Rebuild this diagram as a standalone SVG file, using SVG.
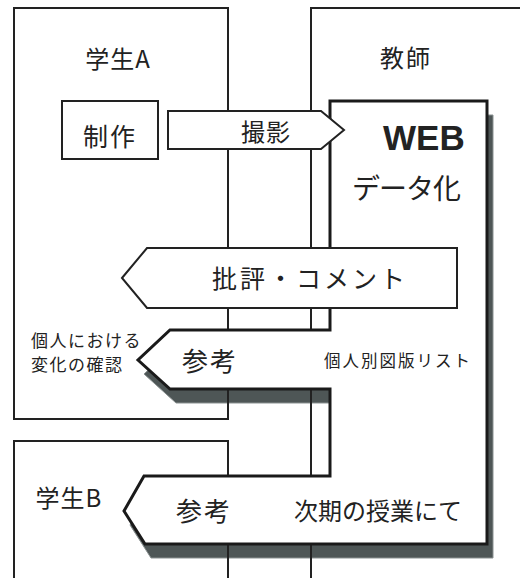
<svg xmlns="http://www.w3.org/2000/svg" width="520" height="578" viewBox="0 0 520 578">
<style>
.box{fill:none;stroke:#222;stroke-width:2}
.shape{fill:#fff;stroke:#222;stroke-width:2}
.web{fill:#fff;stroke:#1a1a1a;stroke-width:3;stroke-linejoin:miter}
.shadow{fill:#4e5656;stroke:#8a9191;stroke-width:1}
text{font-family:"Noto Sans CJK JP","Noto Sans",sans-serif;fill:#222}
.c{text-anchor:middle}
</style>
<rect width="520" height="578" fill="#fff"/>
<g id="web-shadow">
<path class="shadow" transform="translate(6,14)" d="M330,101 H487 V544 H145 L124,511 L144,476 H330 V389 H170 L138,360 L170,330 H330 Z"/>
</g>
<g id="studentA">
<rect class="box" x="14" y="8" width="214" height="411"/>
<text class="c" x="118" y="68" font-size="24" letter-spacing="1">学生A</text>
</g>
<g id="teacher">
<rect class="box" x="311" y="8" width="230" height="600"/>
<text class="c" x="406" y="67" font-size="24" letter-spacing="2">教師</text>
</g>
<g id="studentB">
<rect class="box" x="14" y="441" width="214" height="200"/>
<text class="c" x="69" y="507" font-size="24" letter-spacing="1">学生B</text>
</g>
<g id="seisaku">
<rect class="box" x="62" y="101" width="96" height="58"/>
<text class="c" x="110" y="146" font-size="25" letter-spacing="2">制作</text>
</g>
<g id="web">
<path class="web" d="M330,101 H487 V544 H145 L124,511 L144,476 H330 V389 H170 L138,360 L170,330 H330 Z"/>
<text x="383" y="150" font-weight="bold" font-size="35" style="font-family:'Liberation Sans',Arial,sans-serif">WEB</text>
<text class="c" x="406" y="199" font-size="28" letter-spacing="-1">データ化</text>
<text class="c" x="210" y="371" font-size="26" letter-spacing="2">参考</text>
<text class="c" x="398" y="367" font-size="16.5" letter-spacing="2">個人別図版リスト</text>
<text class="c" x="204" y="521" font-size="26" letter-spacing="2">参考</text>
<text class="c" x="378" y="520" font-size="24">次期の授業にて</text>
</g>
<g id="connectors">
<path class="shape" d="M168,111 H321 L344,130 L321,149 H168 Z"/>
<path class="shape" d="M122,278 L147,248 H457 V308 H147 Z"/>
</g>
<g id="labels">
<text class="c" x="266" y="141" font-size="24" letter-spacing="1">撮影</text>
<text class="c" x="310" y="288" font-size="25" letter-spacing="3">批評・コメント</text>
<text x="31" y="347" font-size="17" letter-spacing="1.5">個人における</text>
<text x="31" y="371" font-size="17" letter-spacing="1.5">変化の確認</text>
</g>
</svg>
